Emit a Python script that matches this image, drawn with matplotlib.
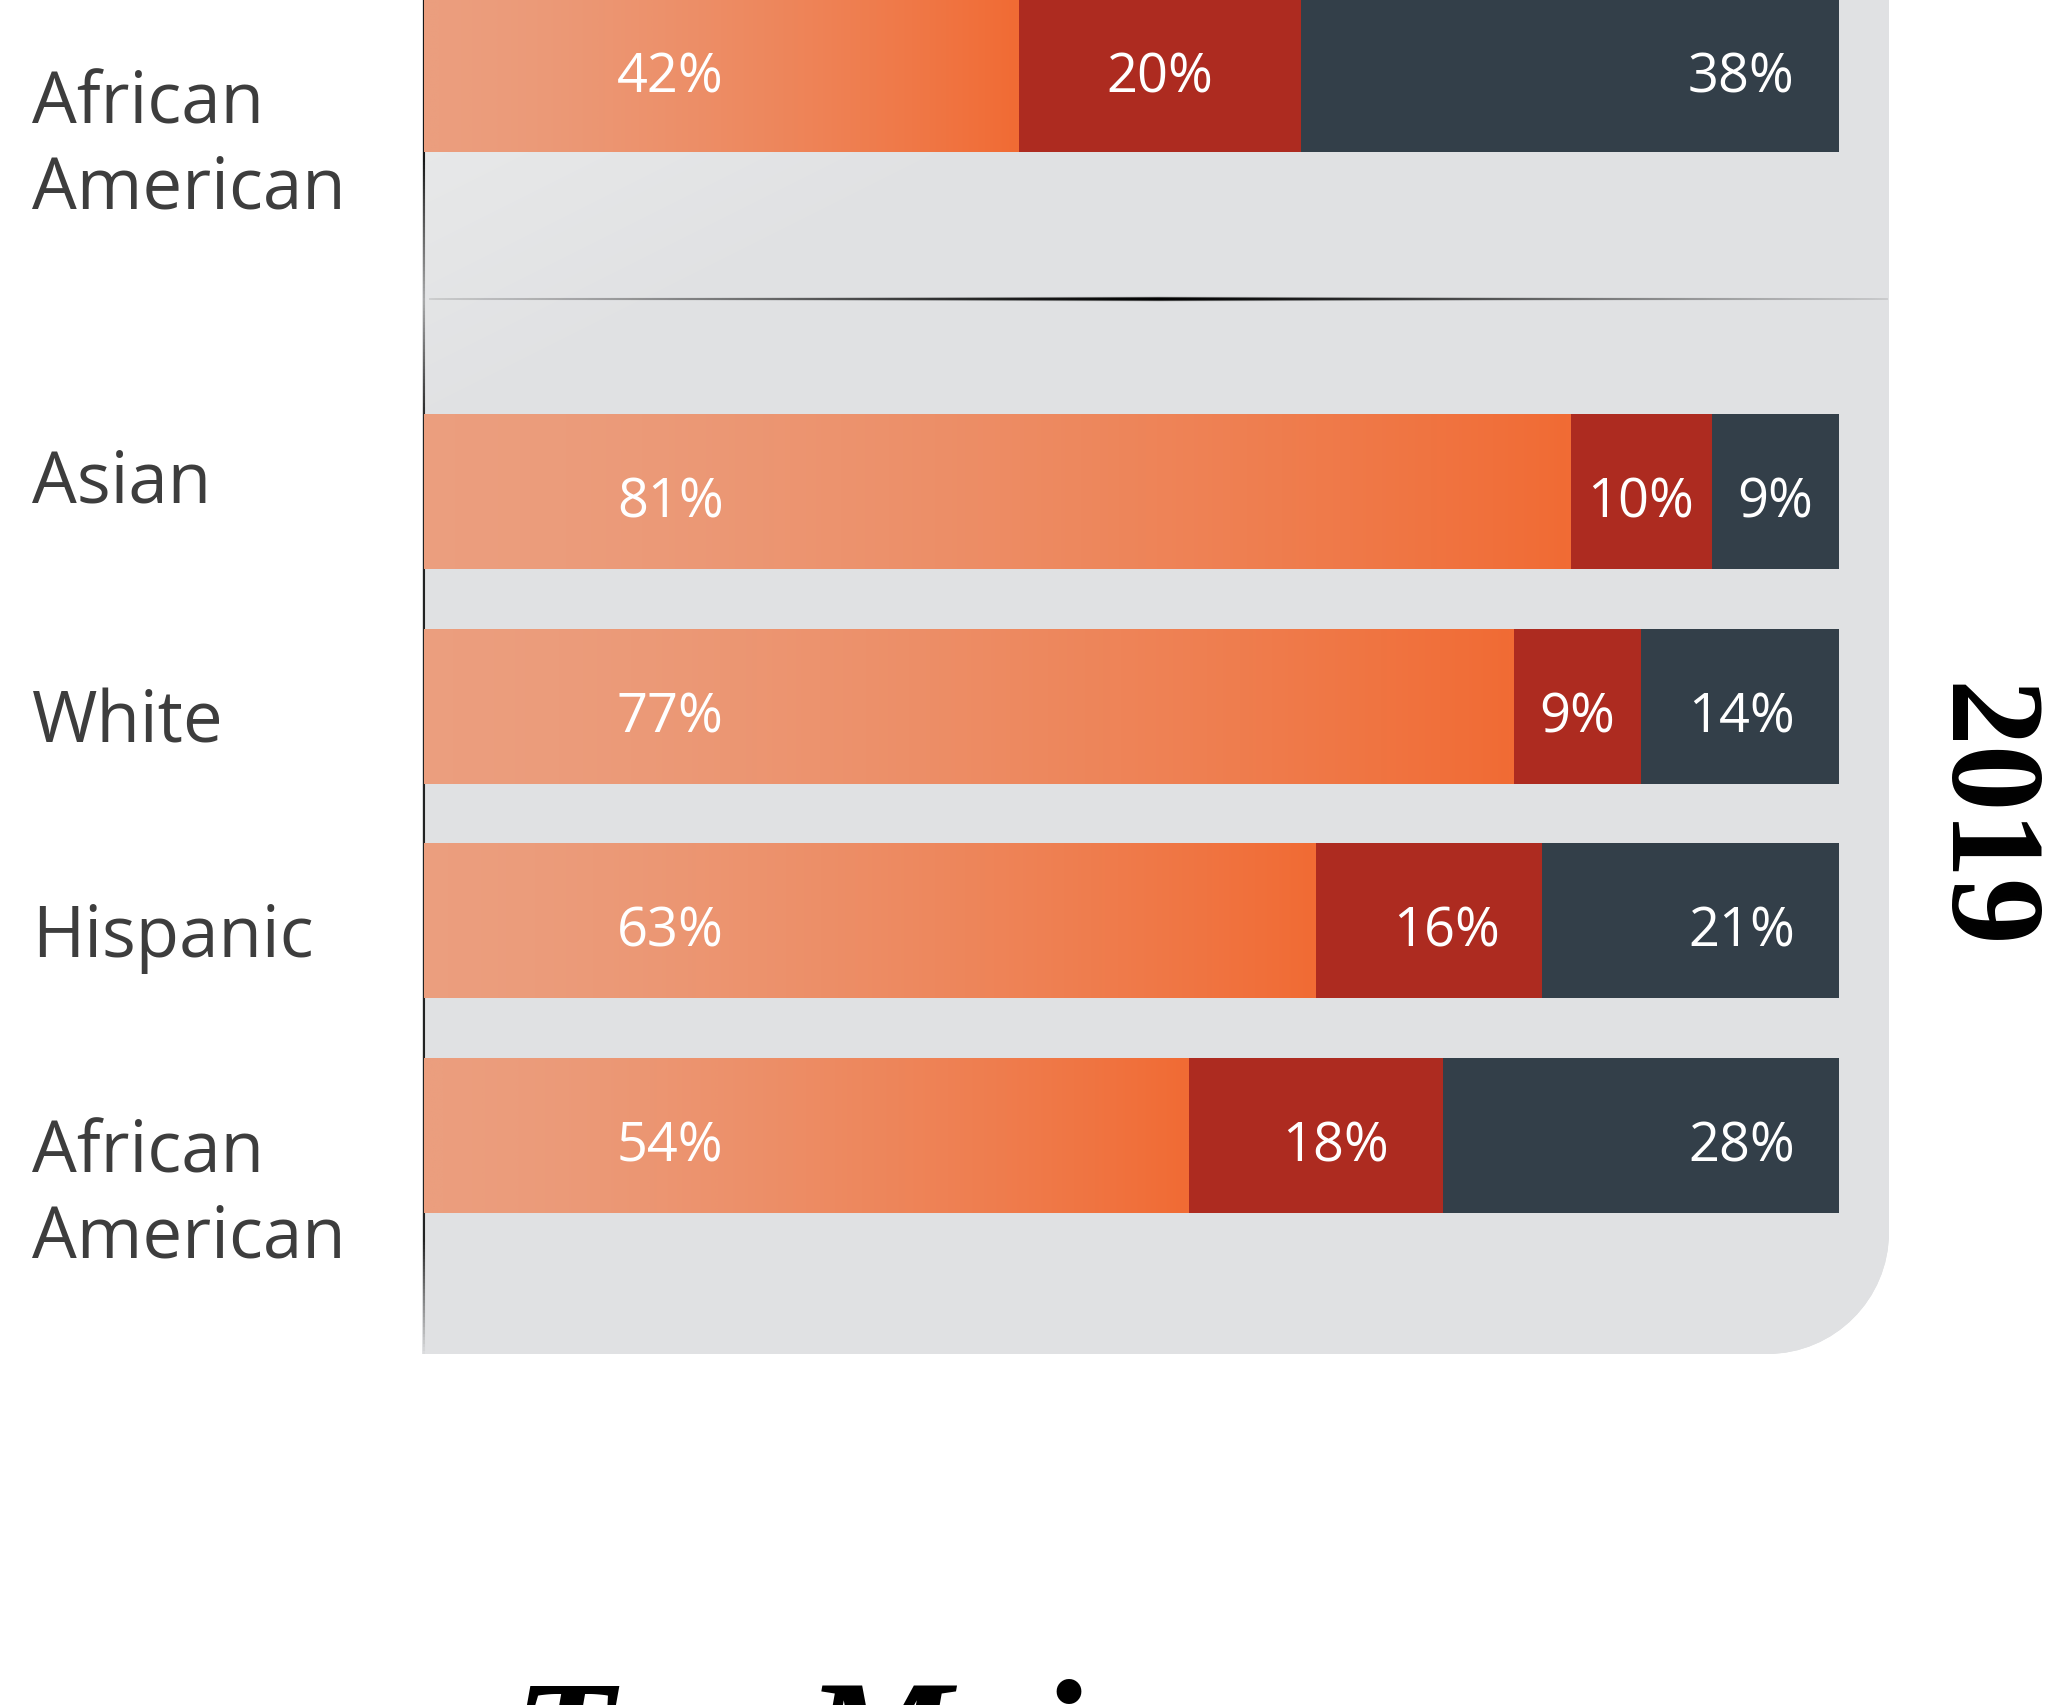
import numpy as np
import matplotlib.pyplot as plt
from matplotlib.path import Path
from matplotlib.patches import PathPatch
from matplotlib.collections import LineCollection
from matplotlib.colors import LinearSegmentedColormap

# data: share of each group, three segments per bar (top bar is the earlier panel)
groups = ["African American", "Asian", "White", "Hispanic", "African American"]
seg_orange = np.array([42, 81, 77, 63, 54])
seg_red = np.array([20, 10, 9, 16, 18])
seg_dark = np.array([38, 9, 14, 21, 28])
year_label = "2019"
heading = "Top Majors"

# colours
ORANGE_L = "#eb9e7e"
ORANGE_R = "#f16b34"
RED = "#ad2b20"
DARK = "#333f49"
PANEL = "#e0e1e3"
PANEL_L = "#ebecec"
LABEL = "#3d3d3d"

# layout (pixels, figure is 2063 x 1706 at dpi 100)
W, H = 2063, 1706
X0 = 424          # pixel where 0 % sits
PX = 14.15        # pixels per percent
row_y = np.r_[75.5, 492.5 + 214.7 * np.arange(4)]
bar_h = 155
label_dy = [48, 10, 35, 35, 36]
pct_dy = [17, 25, 25, 25, 25]
red_dx = [0, 0, 0, 1.3, 1.4]
line_gap = 85

fig = plt.figure(figsize=(W / 100, H / 100), dpi=100)
ax = fig.add_axes([0, 0, 1, 1])
ax.axis('off')

# grey panel with rounded bottom-right corner
xl, xr = -2 / PX, (1889 - X0) / PX
yt, yb = -20, 1355
rx, ry = 122 / PX, 122
k = 0.5523
verts = [(xl, yt), (xr, yt), (xr, yb - ry),
         (xr, yb - ry + k * ry), (xr - rx + k * rx, yb), (xr - rx, yb),
         (xl, yb), (xl, yt)]
codes = [Path.MOVETO, Path.LINETO, Path.LINETO,
         Path.CURVE4, Path.CURVE4, Path.CURVE4,
         Path.LINETO, Path.CLOSEPOLY]
panel = PathPatch(Path(verts, codes), facecolor=PANEL, edgecolor='none', zorder=0)
ax.add_patch(panel)

gx, gy = np.meshgrid(np.linspace(422, 1889, 300), np.linspace(yt, yb, 300))
shade = np.clip((gx - 422) / 900 + gy / 450, 0, 1)
panel_cmap = LinearSegmentedColormap.from_list("panel", [PANEL_L, PANEL])
im = ax.imshow(shade, cmap=panel_cmap, extent=(xl, xr, yb, yt), aspect='auto',
               zorder=0.5, interpolation='bilinear')
im.set_clip_path(panel)

# left axis line, fading out
ys = np.linspace(0, 1355, 400)
alpha = np.where(ys < 160, 0.9, np.interp(ys, [160, 300, 420, 1240, 1355], [0.9, 0.25, 0.85, 0.85, 0.0]))
segs = [[(0, a), (0, b)] for a, b in zip(ys[:-1], ys[1:])]
ax.add_collection(LineCollection(segs, colors=[(0, 0, 0, a) for a in alpha[:-1]],
                                 linewidths=1.5, zorder=1))

# divider between the two panels: tapered line drawn as a smooth RGBA strip
dx_px = np.linspace(429, 1888, 900)
dy_px = np.linspace(294, 306, 49)
prof = 1 - np.abs(dx_px - dx_px.mean()) / (dx_px[-1] - dx_px.mean())
half_w = 0.45 + 1.4 * prof ** 1.5
fade = 0.2 + 0.8 * prof ** 0.6
A = np.clip(half_w[None, :] - np.abs(dy_px[:, None] - 300) + 0.5, 0, 1) * fade[None, :]
strip = np.zeros((len(dy_px), len(dx_px), 4))
strip[..., 3] = A
ax.imshow(strip, extent=((429 - X0) / PX, (1888 - X0) / PX, 306, 294), aspect='auto',
          zorder=1, interpolation='bilinear')

# stacked bars
b1 = ax.barh(row_y, seg_orange, height=bar_h, color=ORANGE_R, linewidth=0, zorder=3)
b2 = ax.barh(row_y, seg_red, left=seg_orange, height=bar_h, color=RED, linewidth=0, zorder=3)
b3 = ax.barh(row_y, seg_dark, left=seg_orange + seg_red, height=bar_h, color=DARK,
             linewidth=0, zorder=3)

grad = (np.linspace(0, 1, 256) ** 1.5).reshape(1, -1)
bar_cmap = LinearSegmentedColormap.from_list("bar", [ORANGE_L, ORANGE_R])
for rect in b1:
    x, y = rect.get_x(), rect.get_y()
    g = ax.imshow(grad, cmap=bar_cmap, extent=(x, x + rect.get_width(), y + rect.get_height(), y),
                  aspect='auto', zorder=3.5, interpolation='bilinear')
    g.set_clip_path(rect)

# percentage labels
pct = dict(color='white', fontsize=39, family='Open Sans', va='baseline', ha='center', zorder=5)
for i, y in enumerate(row_y):
    yb_txt = y + pct_dy[i]
    ax.text(17.4, yb_txt, f"{seg_orange[i]}%", **pct)
    ax.text(seg_orange[i] + seg_red[i] / 2 + red_dx[i], yb_txt, f"{seg_red[i]}%", **pct)
    xd = max(seg_orange[i] + seg_red[i] + seg_dark[i] / 2, 93.1)
    ax.text(xd, yb_txt, f"{seg_dark[i]}%", **pct)

# group labels
lx = (32 - X0) / PX
for i, y in enumerate(row_y):
    words = groups[i].split(" ")
    for j, w in enumerate(words):
        ax.text(lx, y + label_dy[i] + j * line_gap, w, fontsize=51, family='Open Sans',
                color=LABEL, ha='left', va='baseline')

# year and cut-off heading
ax.text((1979 - X0) / PX, 816, year_label, rotation=-90, ha='center', va='center',
        fontsize=96, family='Liberation Serif', fontweight='bold', color='black')
ax.text((513 - X0) / PX, 1794, heading, ha='left', va='baseline', fontsize=119,
        family='Liberation Serif', fontweight='bold', fontstyle='italic', color='black')

ax.set_xlim(-X0 / PX, (W - X0) / PX)
ax.set_ylim(H, 0)

fig.savefig('out.png', dpi=100)
